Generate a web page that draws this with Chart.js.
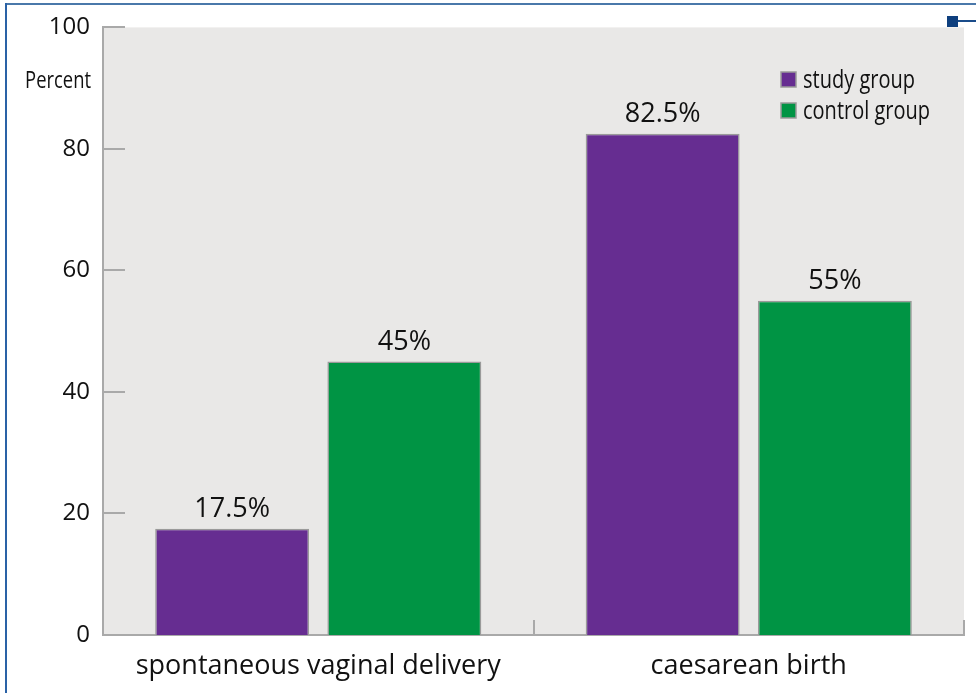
<!DOCTYPE html>
<html>
<head>
<meta charset="utf-8">
<script src="https://cdn.jsdelivr.net/npm/chart.js@4"></script>
<style>
  html, body { margin: 0; padding: 0; background: #fff; }
  #wrap { position: relative; width: 976px; height: 693px; }
  #chart { position: absolute; left: 0; top: 0; }
  .frame-top { position: absolute; left: 5px; top: 3px; width: 971px; height: 2px; background: #4a78aa; }
  .frame-left { position: absolute; left: 5px; top: 3px; width: 2px; height: 690px; background: #2a62a6; }
  .marker { position: absolute; left: 947px; top: 16px; width: 11px; height: 11px; background: #0e3f7e; }
  .marker-line { position: absolute; left: 958px; top: 20px; width: 18px; height: 2px; background: #1a4c8a; }
</style>
</head>
<body>
<div id="wrap">
  <canvas id="chart" width="976" height="693"></canvas>
  <div class="frame-top"></div>
  <div class="frame-left"></div>
  <div class="marker"></div>
  <div class="marker-line"></div>
</div>
<script>
// grouped bars: delivery mode, study vs control

const categories = ['spontaneous vaginal delivery', 'caesarean birth'];
const studyGroup = [17.5, 82.5];
const controlGroup = [45, 55];
const yTicks = [0, 20, 40, 60, 80, 100];

const COLORS = {
  study: '#662d91',
  control: '#009444',
  plotBg: '#e9e8e7',
  axis: '#a9a9a9',
  barEdge: '#9a9a9a',
  text: '#111',
};

const MAIN_FONT = "'Open Sans', sans-serif";
const NARROW = 0.8; // no condensed face installed, squeeze Open Sans instead

// gray plot area
const plotBackground = {
  id: 'plotBackground',
  beforeDraw(chart) {
    const { ctx, chartArea: a } = chart;
    ctx.save();
    ctx.fillStyle = COLORS.plotBg;
    ctx.fillRect(a.left, a.top, a.right - a.left, a.bottom - a.top);
    ctx.restore();
  },
};

// ticks point inward in the original
const inwardTicks = {
  id: 'inwardTicks',
  beforeDatasetsDraw(chart) {
    const { ctx, chartArea: a, scales } = chart;
    ctx.save();
    ctx.strokeStyle = COLORS.axis;
    ctx.lineWidth = 2;
    yTicks.forEach((v) => {
      const y = Math.round(scales.y.getPixelForValue(v));
      ctx.beginPath();
      ctx.moveTo(a.left, y);
      ctx.lineTo(a.left + 22, y);
      ctx.stroke();
    });
    // category dividers
    const n = categories.length;
    for (let i = 1; i <= n; i++) {
      const x = Math.round(scales.x.getPixelForValue(i - 0.5));
      ctx.beginPath();
      ctx.moveTo(x, a.bottom);
      ctx.lineTo(x, a.bottom - 15);
      ctx.stroke();
    }
    ctx.restore();
  },
};

function narrowText(ctx, text, x, y) {
  ctx.save();
  ctx.translate(x, y);
  ctx.scale(NARROW, 1);
  ctx.fillText(text, 0, 0);
  ctx.restore();
}

// value labels, "Percent" title and the in-plot legend
const annotations = {
  id: 'annotations',
  afterDatasetsDraw(chart) {
    const { ctx } = chart;
    ctx.save();
    ctx.fillStyle = COLORS.text;
    ctx.textAlign = 'center';
    ctx.textBaseline = 'bottom';
    ctx.font = `27px ${MAIN_FONT}`;
    chart.data.datasets.forEach((ds, di) => {
      chart.getDatasetMeta(di).data.forEach((bar, i) => {
        ctx.fillText(ds.data[i] + '%', bar.x, bar.y - 6);
      });
    });

    ctx.textAlign = 'right';
    ctx.textBaseline = 'middle';
    ctx.font = `23px ${MAIN_FONT}`;
    narrowText(ctx, 'Percent', 91, 81);

    ctx.textAlign = 'left';
    ctx.font = `25px ${MAIN_FONT}`;
    chart.data.datasets.forEach((ds, di) => {
      const y = 72 + di * 31;
      ctx.fillStyle = ds.backgroundColor;
      ctx.fillRect(781, y, 15, 15);
      ctx.strokeStyle = COLORS.barEdge;
      ctx.lineWidth = 1.5;
      ctx.strokeRect(781, y, 15, 15);
      ctx.fillStyle = COLORS.text;
      narrowText(ctx, ds.label, 803, y + 9);
    });
    ctx.restore();
  },
};

new Chart(document.getElementById('chart'), {
  type: 'bar',
  data: {
    labels: categories,
    datasets: [
      { label: 'study group', data: studyGroup, backgroundColor: COLORS.study, borderColor: COLORS.barEdge, borderWidth: 1.5 },
      { label: 'control group', data: controlGroup, backgroundColor: COLORS.control, borderColor: COLORS.barEdge, borderWidth: 1.5 },
    ],
  },
  options: {
    responsive: false,
    animation: false,
    layout: { padding: { left: 0, right: 12, top: 27, bottom: 0 } },
    datasets: { bar: { categoryPercentage: 0.8, barPercentage: 0.894 } },
    plugins: { legend: { display: false }, tooltip: { enabled: false } },
    scales: {
      x: {
        grid: { display: false, drawTicks: false },
        border: { color: COLORS.axis, width: 2 },
        ticks: { color: COLORS.text, font: { family: MAIN_FONT, size: 27 }, padding: 15, maxRotation: 0 },
        afterFit: (s) => { s.height = 58; },
      },
      y: {
        min: 0,
        max: 100,
        grid: { display: false, drawTicks: false },
        border: { color: COLORS.axis, width: 2 },
        ticks: { stepSize: 20, color: COLORS.text, font: { family: MAIN_FONT, size: 24 }, padding: 13 },
        afterFit: (s) => { s.width = 103; },
      },
    },
  },
  plugins: [plotBackground, inwardTicks, annotations],
});
</script>
</body>
</html>
